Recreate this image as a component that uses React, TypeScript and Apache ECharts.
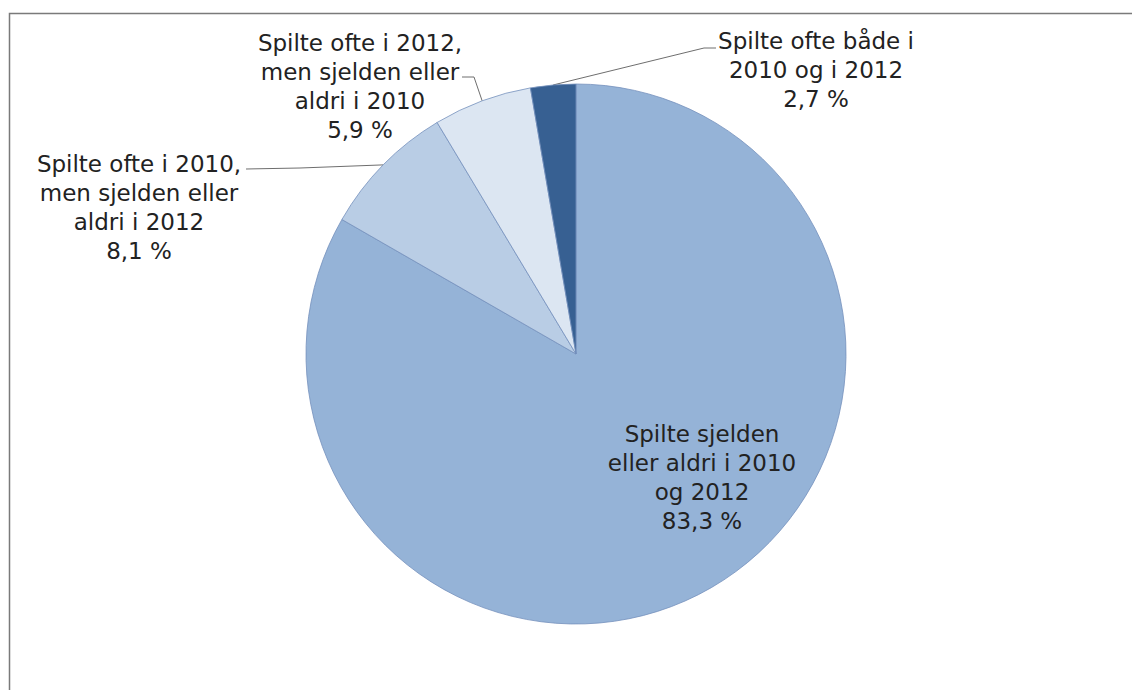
import React, { useEffect, useRef } from "react";
import * as echarts from "echarts";

const categories = [
  "Spilte sjelden\neller aldri i 2010\nog 2012",
  "Spilte ofte i 2010,\nmen sjelden eller\naldri i 2012",
  "Spilte ofte i 2012,\nmen sjelden eller\naldri i 2010",
  "Spilte ofte både i\n2010 og i 2012",
];
const values = [83.3, 8.1, 5.9, 2.7];
const colors = ["#95B3D7", "#B9CDE5", "#DCE6F2", "#376092"];

// label block centres and leader-line bends (layout only)
const labelCentres = [
  [702, 477],
  [139, 207],
  [360, 86],
  [816, 70],
];
const leaderBends: (number[][] | null)[] = [
  null,
  [[300, 168], [246, 169]],
  [[474, 77], [462, 77]],
  [[704, 48], [716, 48]],
];

export default function App() {
  const ref = useRef<HTMLDivElement>(null);
  useEffect(() => {
    if (!ref.current) return;
    const chart = echarts.init(ref.current, null, { renderer: "svg" });
    chart.setOption({
      animation: false,
      backgroundColor: "#ffffff",
      graphic: [
        {
          type: "rect",
          shape: { x: 9.5, y: 13.5, width: 1300, height: 900 },
          style: { fill: "none", stroke: "#7a7a7a", lineWidth: 1.5 },
          silent: true,
        },
      ],
      series: [
        {
          type: "pie",
          center: [576, 354],
          radius: 270,
          startAngle: 90,
          clockwise: true,
          avoidLabelOverlap: false,
          minShowLabelAngle: 0,
          itemStyle: { borderColor: "#7591bc", borderWidth: 0.8 },
          label: {
            show: true,
            position: "outside",
            fontFamily: "DejaVu Sans",
            fontSize: 23,
            lineHeight: 29,
            color: "#222222",
            align: "center",
            formatter: (p: any) =>
              `${p.name}\n${Number(p.value).toFixed(1).replace(".", ",")} %`,
          },
          labelLine: {
            show: true,
            lineStyle: { color: "#6e6e6e", width: 1 },
          },
          labelLayout: (p: any) => {
            const i = p.dataIndex;
            const c = labelCentres[i];
            const res: any = { x: c[0], y: c[1], align: "center", verticalAlign: "middle" };
            const bends = leaderBends[i];
            if (bends && p.labelLinePoints) {
              res.labelLinePoints = [p.labelLinePoints[0], bends[0], bends[1]];
            }
            return res;
          },
          data: values.map((v, i) => ({
            value: v,
            name: categories[i],
            itemStyle: { color: colors[i] },
            label: i === 0 ? { position: "inside" } : undefined,
            labelLine: i === 0 ? { show: false } : undefined,
          })),
        },
      ],
    });
    return () => chart.dispose();
  }, []);
  return (
    <div
      ref={ref}
      style={{ position: "fixed", left: 0, top: 0, width: 1132, height: 690 }}
    />
  );
}
